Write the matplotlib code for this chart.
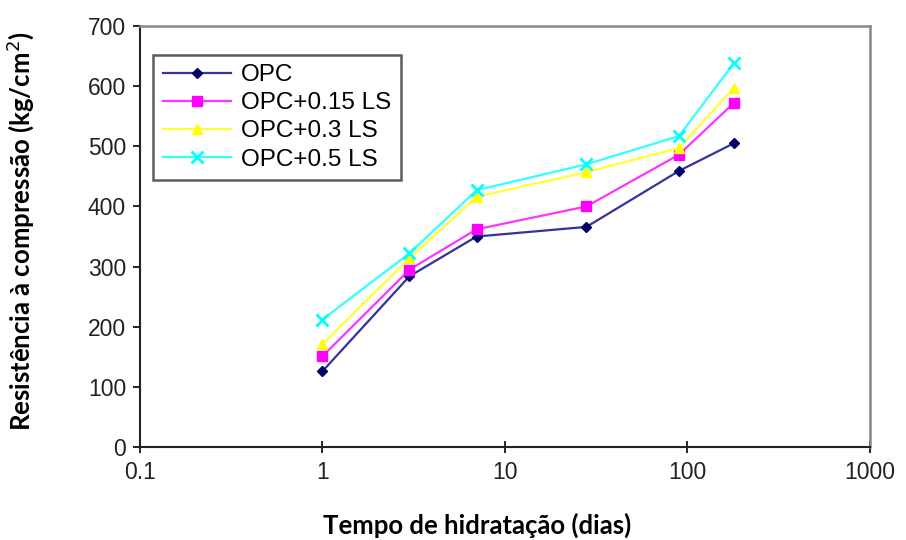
import matplotlib.pyplot as plt
from matplotlib.ticker import FixedLocator, FixedFormatter, NullLocator

days = [1, 3, 7, 28, 90, 180]
opc = [126, 284, 350, 366, 459, 505]
opc_015 = [151, 295, 362, 400, 486, 572]
opc_03 = [171, 314, 416, 457, 497, 597]
opc_05 = [212, 322, 427, 470, 517, 638]

series = [
    ('OPC', opc, '#333399', '#000066', 'D', 5),
    ('OPC+0.15 LS', opc_015, '#FF33FF', '#FF00FF', 's', 7),
    ('OPC+0.3 LS', opc_03, '#FFFF33', '#FFFF00', '^', 7),
    ('OPC+0.5 LS', opc_05, '#33FFFF', '#00FFFF', 'x', 9),
]

fig = plt.figure(figsize=(9.06, 5.4), dpi=100)
ax = fig.add_axes([0.1545, 0.172, 0.8055, 0.78])

for label, vals, lc, mc, mk, ms in series:
    ax.plot(days, vals, color=lc, lw=1.6, marker=mk, markersize=ms,
            markerfacecolor=mc, markeredgecolor=mc, markeredgewidth=2 if mk == 'x' else 1,
            label=label)

ax.set_xscale('log')
ax.set_xlim(0.1, 1000)
ax.set_ylim(0, 700)
xt = [0.1, 1, 10, 100, 1000]
ax.xaxis.set_major_locator(FixedLocator(xt))
ax.xaxis.set_major_formatter(FixedFormatter(['0.1', '1', '10', '100', '1000']))
ax.xaxis.set_minor_locator(NullLocator())
ax.set_yticks(range(0, 701, 100))

for t in ax.get_xticklabels() + ax.get_yticklabels():
    t.set_fontfamily('Liberation Sans')
    t.set_fontsize(16.5)
    t.set_color('#222222')
ax.tick_params(axis='x', direction='inout', length=8, width=1.2, pad=6)
ax.tick_params(axis='y', direction='out', length=5, width=1.2, pad=5)

for s in ['left', 'bottom']:
    ax.spines[s].set_linewidth(1.5)
    ax.spines[s].set_color('#222222')
for s in ['top', 'right']:
    ax.spines[s].set_linewidth(1.8)
    ax.spines[s].set_color('#888888')

ax.set_xlabel('Tempo de hidratação (dias)', fontfamily='Lato', fontweight='bold',
              fontsize=18.5)
ax.set_ylabel('Resistência à compressão (kg/cm$^2$)', fontfamily='Lato',
              fontweight='bold', fontsize=18.5)
ax.yaxis.set_label_coords(-0.142, 0.513)
ax.xaxis.set_label_coords(0.462, -0.155)

leg = ax.legend(loc='upper left', bbox_to_anchor=(0.018, 0.932), frameon=True,
                fancybox=False, shadow=False, prop={'family': 'Liberation Sans', 'size': 17.5},
                handlelength=2.8, handletextpad=0.4, borderpad=0.4,
                labelspacing=0.25, borderaxespad=0)
leg.get_frame().set_edgecolor('#333333')
leg.get_frame().set_linewidth(1.8)

fig.savefig('out.png', dpi=100)
